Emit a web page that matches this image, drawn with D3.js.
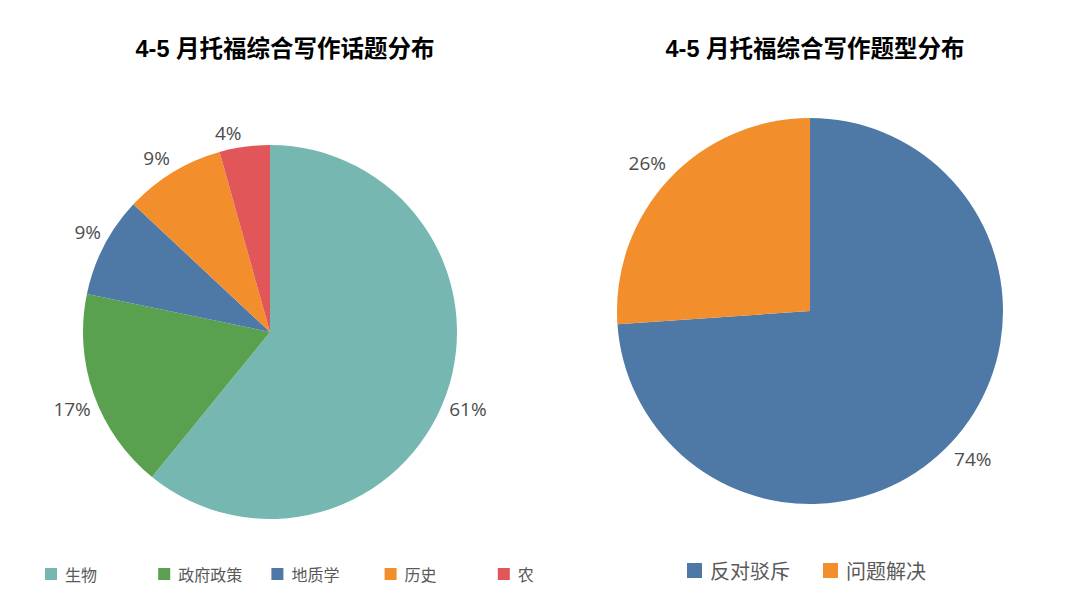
<!DOCTYPE html>
<html>
<head>
<meta charset="utf-8">
<script src="https://cdn.jsdelivr.net/npm/d3@7"></script>
<style>
  body { margin: 0; background: #fff; }
  svg { display: block; }
</style>
</head>
<body>
<svg id="chart" width="1080" height="611"></svg>
<script>
// 话题分布 (counts, 23 essays)
const topicNames = ["生物", "政府政策", "地质学", "历史", "农"];
const topicCounts = [14, 4, 2, 2, 1];
// 题型分布
const typeNames = ["反对驳斥", "问题解决"];
const typeCounts = [17, 6];

const topicColors = ["#76B7B2", "#59A14F", "#4E79A7", "#F28E2B", "#E15759"];
const typeColors = ["#4E79A7", "#F28E2B"];

const titleLeft = "4-5 月托福综合写作话题分布";
const titleRight = "4-5 月托福综合写作题型分布";

const svg = d3.select("#chart");
const pct = d3.format(".0%");

const drawPie = (opt) => {
    const total = d3.sum(opt.values);
    const pie = d3.pie().sort(null).value(d => d);
    const arc = d3.arc().innerRadius(0).outerRadius(opt.r);

    const g = svg.append("g")
        .attr("transform", `translate(${opt.cx}, ${opt.cy})`);

    const arcs = pie(opt.values);

    g.selectAll("path")
        .data(arcs)
        .enter()
        .append("path")
        .attr("d", arc)
        .style("fill", (d, i) => opt.colors[i]);

    // label box corner sits on the rim point at the slice middle
    const labels = g.selectAll("text")
        .data(arcs)
        .enter()
        .append("text")
        .attr("text-anchor", "middle")
        .attr("dominant-baseline", "central")
        .style("font-family", "'Open Sans', sans-serif")
        .style("font-size", opt.labelSize + "px")
        .style("fill", "#4d4d4d")
        .text(d => pct(d.value / total));

    labels.each(function (d) {
        const a = (d.startAngle + d.endAngle) / 2;
        const w = this.getComputedTextLength();
        const sx = Math.sign(Math.sin(a));
        const sy = Math.sign(-Math.cos(a));
        const x = Math.sin(a) * opt.r + sx * (w / 2 + 3);
        const y = -Math.cos(a) * opt.r + sy * opt.yOff;
        d3.select(this).attr("x", x).attr("y", y);
    });

    svg.append("text")
        .attr("x", opt.titleX)
        .attr("y", 57)
        .attr("text-anchor", "middle")
        .style("font-family", "'Liberation Sans', 'Noto Sans CJK SC', sans-serif")
        .style("font-weight", "bold")
        .style("font-size", "23.5px")
        .style("fill", "#000")
        .text(opt.title);

    const legend = svg.append("g")
        .attr("transform", `translate(${opt.legendX}, ${opt.legendY})`);

    legend.selectAll("rect")
        .data(opt.names)
        .enter()
        .append("rect")
        .attr("x", (d, i) => i * opt.legendStep)
        .attr("y", 0)
        .attr("width", opt.box)
        .attr("height", opt.box)
        .style("fill", (d, i) => opt.colors[i]);

    legend.selectAll("text")
        .data(opt.names)
        .enter()
        .append("text")
        .attr("x", (d, i) => i * opt.legendStep + opt.box + opt.textGap)
        .attr("y", opt.box / 2)
        .attr("dominant-baseline", "central")
        .style("font-family", "'Noto Sans CJK SC', serif")
        .style("font-size", opt.legendSize + "px")
        .style("fill", "#595959")
        .text(d => d);
};

drawPie({
    values: topicCounts, names: topicNames, colors: topicColors,
    cx: 270, cy: 332, r: 187, yOff: 14, labelSize: 19,
    title: titleLeft, titleX: 285,
    legendX: 45, legendY: 568, legendStep: 113.2, box: 12, textGap: 8, legendSize: 16
});

drawPie({
    values: typeCounts, names: typeNames, colors: typeColors,
    cx: 810, cy: 311, r: 193, yOff: 16, labelSize: 19,
    title: titleRight, titleX: 815,
    legendX: 687, legendY: 563, legendStep: 136, box: 15, textGap: 8, legendSize: 20
});
</script>
</body>
</html>
